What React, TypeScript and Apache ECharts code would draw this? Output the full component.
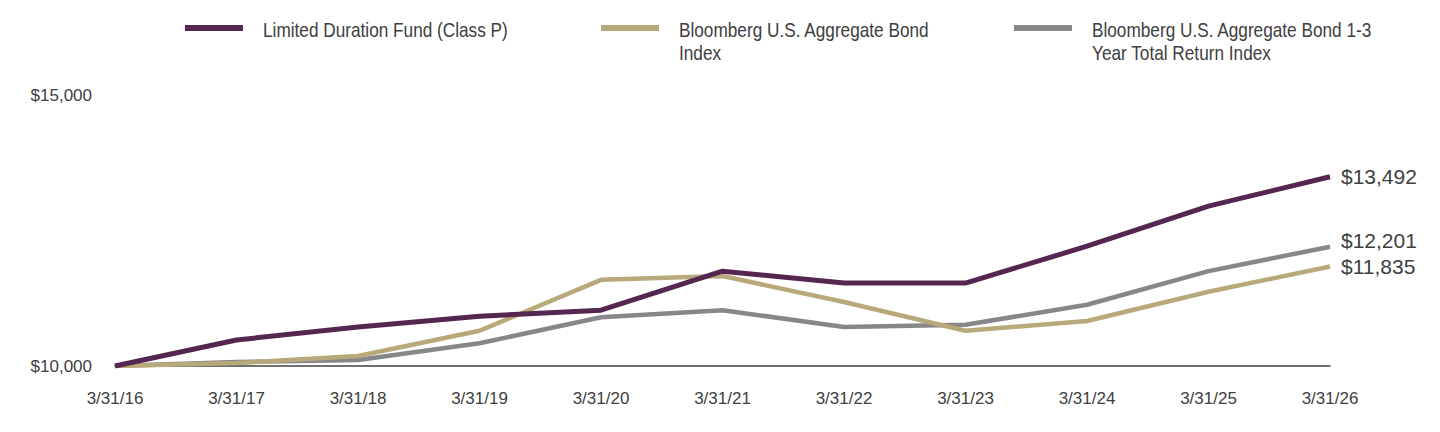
import React, { useEffect, useRef } from "react";
import * as echarts from "echarts";

const categories = ["3/31/16", "3/31/17", "3/31/18", "3/31/19", "3/31/20", "3/31/21", "3/31/22", "3/31/23", "3/31/24", "3/31/25", "3/31/26"];
const fundValues = [10000, 10480, 10720, 10920, 11030, 11750, 11530, 11530, 12210, 12950, 13492];
const aggValues = [10000, 10055, 10185, 10650, 11590, 11660, 11180, 10650, 10830, 11370, 11835];
const shortValues = [10000, 10075, 10110, 10420, 10900, 11030, 10720, 10760, 11130, 11750, 12201];
const seriesNames = ["Limited Duration Fund (Class P)", "Bloomberg U.S. Aggregate Bond Index", "Bloomberg U.S. Aggregate Bond 1-3 Year Total Return Index"];
const legendLines = [["Limited Duration Fund (Class P)"], ["Bloomberg U.S. Aggregate Bond", "Index"], ["Bloomberg U.S. Aggregate Bond 1-3", "Year Total Return Index"]];
const yTicks = [10000, 15000];

const COLORS = ["#542650", "#B8A97A", "#87878A"];
const FONT = "'Liberation Sans', Arial, sans-serif";
const TEXT = "#404040";
const fmt = (v: number) => "$" + v.toLocaleString("en-US");

export default function App() {
  const ref = useRef<HTMLDivElement>(null);
  useEffect(() => {
    if (!ref.current) return;
    const chart = echarts.init(ref.current, null, { renderer: "svg" });
    const legendX = [185, 601, 1014];
    const graphics: any[] = [];
    legendLines.forEach((lines, i) => {
      graphics.push({ type: "rect", x: legendX[i], y: 25, shape: { width: 58, height: 6 }, style: { fill: COLORS[i] } });
      graphics.push({
        type: "text", x: legendX[i] + 78, y: 18, scaleX: 0.82,
        style: { text: lines.join("\n"), fill: TEXT, font: `21px ${FONT}`, lineHeight: 23, verticalAlign: "top" },
      });
    });
    const mk = (i: number, data: number[], z: number, offset: number[]) => ({
      name: seriesNames[i], type: "line", data, symbol: "none", z,
      lineStyle: { color: COLORS[i], width: i === 0 ? 5 : 4.5 },
      itemStyle: { color: COLORS[i] },
      endLabel: { show: true, formatter: (p: any) => fmt(p.value), color: TEXT, fontSize: 21, fontFamily: FONT, distance: 11, offset },
    });
    chart.setOption({
      animation: false,
      grid: { left: 115, right: 110, top: 95, bottom: 66, containLabel: false },
      graphic: graphics,
      xAxis: {
        type: "category", data: categories, boundaryGap: false,
        axisLine: { lineStyle: { color: "#404040", width: 1.5 } },
        axisTick: { show: false },
        axisLabel: { color: TEXT, fontSize: 17, fontFamily: FONT, margin: 24 },
        splitLine: { show: false },
      },
      yAxis: {
        type: "value", min: yTicks[0], max: yTicks[1], interval: yTicks[1] - yTicks[0],
        axisLine: { show: false }, axisTick: { show: false }, splitLine: { show: false },
        axisLabel: { color: TEXT, fontSize: 17, fontFamily: FONT, margin: 23, formatter: (v: number) => fmt(v) },
      },
      series: [
        mk(2, shortValues, 2, [0, -6]),
        mk(1, aggValues, 3, [0, 0]),
        mk(0, fundValues, 4, [0, 0]),
      ],
    });
    return () => chart.dispose();
  }, []);
  return <div ref={ref} style={{ width: 1440, height: 432, margin: -8 }} />;
}
